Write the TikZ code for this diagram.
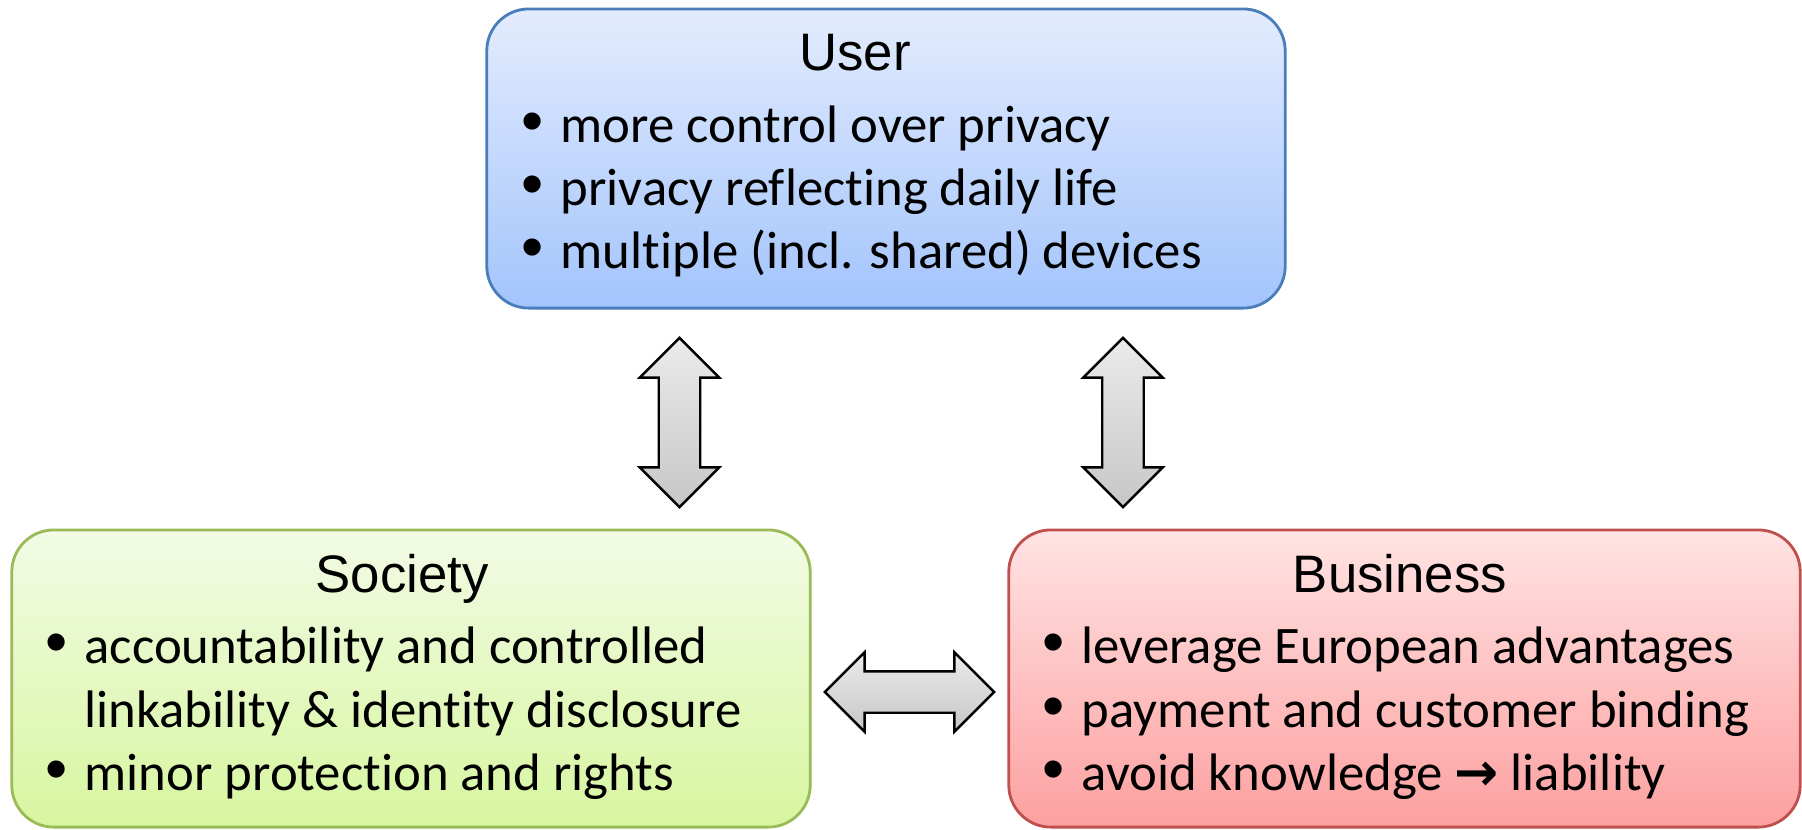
\documentclass[tikz,border=0pt]{standalone}
\usepackage{fontspec}
\setmainfont{Carlito}[Ligatures=NoCommon]
\newfontfamily\headfont{Liberation Sans}
\newfontfamily\arrowfont{DejaVu Sans}
\usetikzlibrary{shapes.arrows,positioning,calc}
\definecolor{userline}{RGB}{74,126,187}
\definecolor{usertop}{RGB}{227,236,253}
\definecolor{userbot}{RGB}{163,196,252}
\definecolor{socline}{RGB}{155,187,89}
\definecolor{soctop}{RGB}{242,251,229}
\definecolor{socbot}{RGB}{215,246,160}
\definecolor{busline}{RGB}{192,80,77}
\definecolor{bustop}{RGB}{255,227,227}
\definecolor{busbot}{RGB}{253,160,160}
\newcommand{\bul}{\makebox[0.39cm][l]{\headfont\fontsize{18}{18}\selectfont\char"2022}}
\newcommand{\hang}{\hspace*{0.39cm}}

\begin{document}
\begin{tikzpicture}[x=0.01cm,y=-0.01cm,
    panel/.style={rounded corners=0.42cm,line width=0.8pt,minimum width=7.98cm,
      minimum height=2.97cm,inner sep=0pt},
    head/.style={font=\headfont\fontsize{15}{18}\selectfont,anchor=base,inner sep=0pt},
    item/.style={font=\fontsize{15}{18}\selectfont,anchor=base west,inner sep=0pt},
    swap/.style={double arrow,draw=black,line width=0.7pt,minimum height=1.69cm,
      text height=0.39cm,text depth=0pt,text width=0pt,inner sep=0pt,
      double arrow head extend=0.19cm,double arrow head indent=0pt}]
  \useasboundingbox (0,0) rectangle (1802,829);

  % the three stakeholders
  \node[panel,draw=userline,top color=usertop,bottom color=userbot,minimum height=2.99cm] (user) at (886,158.5) {};
  \node[panel,draw=socline,top color=soctop,bottom color=socbot] (society) at (411,678.5) {};
  \node[panel,draw=busline,top color=bustop,bottom color=busbot,minimum width=7.91cm] (business) at (1404.5,678.5) {};

  \node[head] (usertitle) at (855,70) {User};
  \node[item] (u1) at (521,142) {\bul more control over privacy};
  \node[item] (u2) at (521,205) {\bul privacy reflecting daily life};
  \node[item] (u3) at (521,268) {\bul multiple (incl. shared) devices};

  \node[head] (soctitle) at (402,592) {Society};
  \node[item] (s1) at (45,663) {\bul accountability and controlled};
  \node[item] (s2) at (45,727) {\hang linkability \& identity disclosure};
  \node[item] (s3) at (45,790) {\bul minor protection and rights};

  \node[head] (bustitle) at (1400,592) {Business};
  \node[item] (b1) at (1042,663) {\bul leverage European advantages};
  \node[item] (b2) at (1042,727) {\bul payment and customer binding};
  \node[item] (b3) at (1042,790) {\bul avoid knowledge {\arrowfont\bfseries →} liability};

  % relations
  \node[swap,rotate=90,top color=black!8,bottom color=black!22] (userSoc) at (679.5,422.5) {};
  \node[swap,rotate=90,top color=black!8,bottom color=black!22] (userBus) at (1123,422.5) {};
  \node[swap,top color=black!8,bottom color=black!22] (socBus) at (909.5,692) {};
\end{tikzpicture}
\end{document}
